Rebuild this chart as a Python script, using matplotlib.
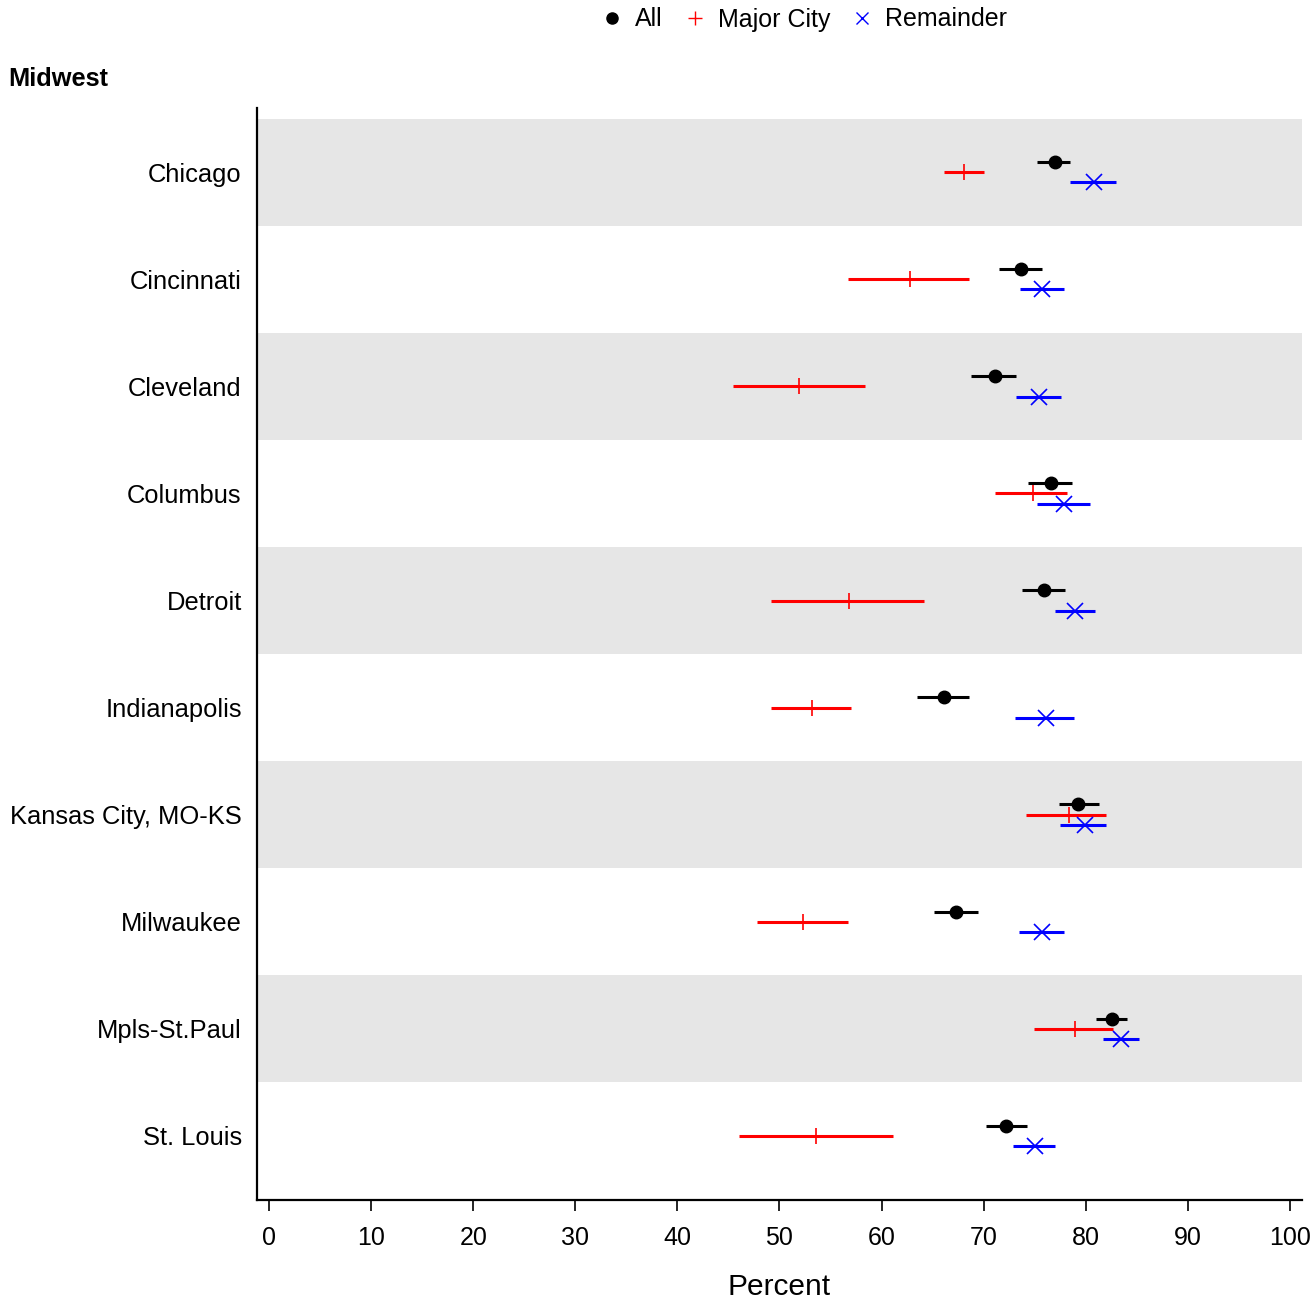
import matplotlib
matplotlib.use("Agg")
import matplotlib.pyplot as plt
import numpy as np

plt.rcParams['font.family'] = ['Liberation Sans', 'DejaVu Sans']

cities = ["Chicago", "Cincinnati", "Cleveland", "Columbus", "Detroit",
          "Indianapolis", "Kansas City, MO-KS", "Milwaukee", "Mpls-St.Paul", "St. Louis"]

# estimate, lower, upper
all_est = [77.0, 73.7, 71.1, 76.6, 75.9, 66.1, 79.3, 67.3, 82.6, 72.2]
all_lo = [75.2, 71.5, 68.8, 74.4, 73.8, 63.5, 77.4, 65.1, 81.0, 70.2]
all_hi = [78.5, 75.7, 73.2, 78.7, 78.0, 68.6, 81.3, 69.5, 84.1, 74.3]

major_est = [68.1, 62.8, 51.9, 74.8, 56.8, 53.2, 78.4, 52.3, 79.0, 53.6]
major_lo = [66.1, 56.7, 45.4, 71.1, 49.2, 49.2, 74.2, 47.8, 74.9, 46.0]
major_hi = [70.0, 68.6, 58.4, 78.2, 64.2, 57.0, 82.0, 56.7, 82.7, 61.1]

rem_est = [80.8, 75.7, 75.4, 77.9, 79.0, 76.1, 79.9, 75.7, 83.5, 75.0]
rem_lo = [78.5, 73.6, 73.2, 75.2, 77.0, 73.1, 77.5, 73.5, 81.7, 72.9]
rem_hi = [83.0, 77.9, 77.6, 80.4, 80.9, 78.9, 82.0, 77.9, 85.2, 77.0]

fig = plt.figure(figsize=(13.15, 13.0), dpi=100)
ax = fig.add_axes([0.1954, 0.0769, 0.7947, 0.84])

y = np.arange(len(cities))
for i in y:
    if i % 2 == 0:
        ax.axhspan(i - 0.5, i + 0.5, color='#e6e6e6', lw=0, zorder=0)

def draw(est, lo, hi, off, color, marker, ms, mew):
    est = np.array(est); lo = np.array(lo); hi = np.array(hi)
    ax.errorbar(est, y + off, xerr=[est - lo, hi - est], fmt='none',
                ecolor=color, elinewidth=2.2, capsize=0, zorder=2)
    ax.plot(est, y + off, linestyle='none', marker=marker, color=color,
            markersize=ms, markeredgewidth=mew, zorder=3)

draw(all_est, all_lo, all_hi, -0.095, 'black', 'o', 9, 1)
draw(major_est, major_lo, major_hi, 0.0, 'red', '+', 12, 1.2)
draw(rem_est, rem_lo, rem_hi, 0.095, 'blue', 'x', 11, 1.2)

ax.set_xlim(-1.2, 101.2)
ax.set_ylim(9.6, -0.6)
ax.set_xticks(np.arange(0, 101, 10))
ax.set_yticks(y)
ax.set_yticklabels(cities, fontsize=18.4)
ax.tick_params(axis='x', labelsize=18, length=8, width=1.2, pad=11)
ax.tick_params(axis='y', length=0, pad=11)
ax.set_xlabel("Percent", fontsize=21.5, labelpad=16)
for s in ['top', 'right']:
    ax.spines[s].set_visible(False)
for s in ['left', 'bottom']:
    ax.spines[s].set_linewidth(1.6)

fig.text(0.006, 0.939, "Midwest", fontsize=18.3, fontweight='bold', ha='left', va='center')

h1 = ax.plot([], [], 'o', color='black', markersize=8)[0]
h2 = ax.plot([], [], '+', color='red', markersize=10, markeredgewidth=1)[0]
h3 = ax.plot([], [], 'x', color='blue', markersize=9, markeredgewidth=1)[0]
fig.legend([h1, h2, h3], ["All", "Major City", "Remainder"], loc='center',
           bbox_to_anchor=(0.611, 0.985), ncol=3, frameon=False, fontsize=18,
           handlelength=1.0, handletextpad=0.4, columnspacing=0.8)

fig.savefig("out.png", dpi=100)
